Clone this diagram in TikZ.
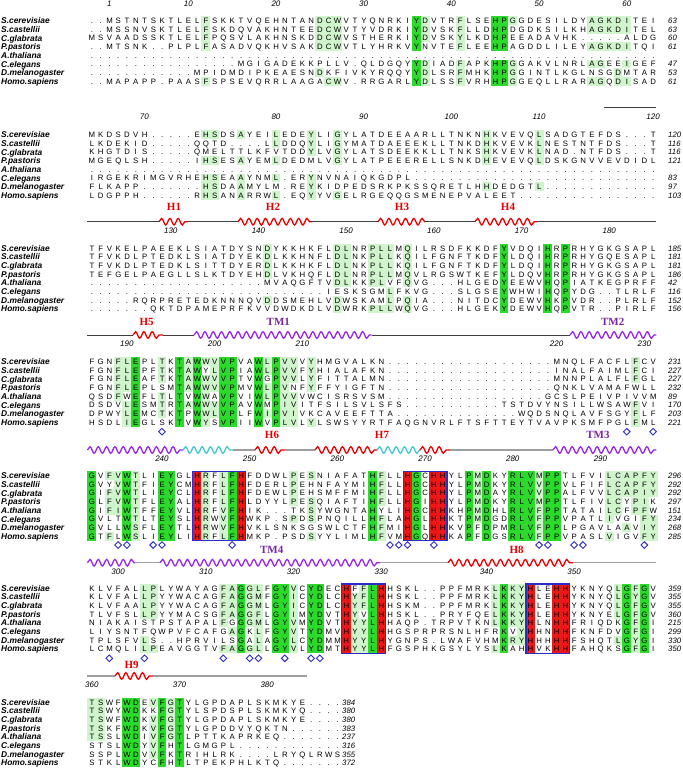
\documentclass[tikz,border=0pt]{standalone}
\usepackage{fontspec}
\setmainfont{Liberation Sans}
\newfontfamily\labelserif{Liberation Serif}
\usetikzlibrary{decorations.pathmorphing,shapes.geometric}

\definecolor{palegr}{RGB}{208,244,204}
\definecolor{brightgr}{RGB}{44,218,44}
\definecolor{redbg}{RGB}{236,24,24}
\definecolor{boxblue}{RGB}{44,44,204}
\definecolor{helixred}{RGB}{232,0,0}
\definecolor{tmviolet}{RGB}{150,40,235}
\definecolor{tmlabel}{RGB}{120,40,165}
\definecolor{turncyan}{RGB}{70,200,205}

% one residue per alignment column
\def\gv{.....}
\def\seqloop#1{\ifx\relax#1\else\makebox[8.77pt]{#1}\expandafter\seqloop\fi}
\def\blocky#1{\ifcase#1\or20.7\or134.7\or248.3\or361.7\or475.7\or588.3\or702.3\fi}
\newcommand\seqrow[2]{\edef\rowtxt{#2}%
  \node[seqres] (s\blk-#1) at (87.4,{\yb+(#1-1)*8.67+2.8}) {\expandafter\seqloop\rowtxt\relax};}

% shading of one column, one code per sequence: g pale, G green, R red
\newcommand\hlcol[2]{\pgfmathsetmacro\hlx{91.8+(#1-1)*8.77-4.385}%
  \expandafter\hlparse#2\relax}
\def\hlparse#1#2#3#4#5#6#7#8\relax{\hlcell0#1\hlcell1#2\hlcell2#3\hlcell3#4%
  \hlcell4#5\hlcell5#6\hlcell6#7\hlcell7#8}
\def\hlcell#1#2{%
  \if#2g\fill[palegr] (\hlx,{\yb+#1*8.67-4.335}) rectangle ++(8.87,8.77);\fi
  \if#2G\fill[brightgr] (\hlx,{\yb+#1*8.67-4.335}) rectangle ++(8.87,8.77);\fi
  \if#2R\fill[redbg] (\hlx,{\yb+#1*8.67-4.335}) rectangle ++(8.87,8.77);\fi}

% secondary structure piece: style, from x, to x, y
\newcommand\sse[4]{\draw[#1] (#2,#4) -- (#3,#4);}
\newcommand\motif[3]{\draw[motifbox] ({91.8+(#1-1)*8.77-4.385},{\yb-4.335})
  rectangle ({91.8+(#2-1)*8.77+4.385},{\yb+7*8.67+4.335});}

\begin{document}
\begin{tikzpicture}[x=1pt, y=-1pt, every node/.style={inner sep=0pt},
  seqres/.style={anchor=base west, font=\fontsize{7.8}{9}\selectfont},
  seqname/.style={anchor=base west, font=\fontsize{8.4}{9}\selectfont\bfseries\itshape},
  seqend/.style={anchor=base west, font=\fontsize{7.8}{9}\selectfont\itshape},
  rulenum/.style={font=\fontsize{8}{9}\selectfont\itshape},
  hlab/.style={font=\fontsize{11}{12}\selectfont\labelserif\bfseries, text=helixred},
  tmlab/.style={font=\fontsize{11}{12}\selectfont\labelserif\bfseries, text=tmlabel},
  helixH/.style={draw=helixred, line width=1.3pt, decorate,
    decoration={snake, segment length=8.3pt, amplitude=3.3pt}},
  helixTM/.style={helixH, draw=tmviolet},
  helixC/.style={helixH, draw=turncyan},
  coilk/.style={draw=black!75, line width=0.9pt},
  coilg/.style={draw=black!38, line width=1.1pt},
  motifbox/.style={draw=boxblue, line width=1.2pt},
  site/.style={draw=boxblue, diamond, line width=0.9pt, minimum width=7pt, minimum height=7pt}]
\fill[white] (0,0) rectangle (683,769);
\useasboundingbox (0,0) rectangle (683,769);

% block 1
\def\blk{1}\edef\yb{\blocky{1}}
\foreach \c/\p in {14/gggg---g, 27/gggg--g-, 28/gggg---g, 29/gggg---g, 38/GGGG-GGG,
  39/ggg--ggg, 43/gggg-ggg, 47/GGGG-GGG, 48/GGGG-GGG, 49/g----ggg, 58/gg-g-g-g,
  59/gg-g-g-g, 60/gg-g----, 61/gg-g--gg, 62/gg-g-g-g} {\hlcol{\c}{\p}}
\seqrow{1}{..MSTNTSKTLELFSKKTVQEHNTANDCWVTYQNRKIYDVTRFLSEHPGGDESILDYAGKDITEI}
\seqrow{2}{..MSSNVSKTLELFSKDQVAKHNTEEDCWVTYVDRKIYDVSKFLLDHPDGDKSILKHAGKDITEL}
\seqrow{3}{MSVAADSSKTLELFPQSVLAKHNSKDDCWVSTHERKIYDVSKYLKDHPEEADAVHK\gv ALDG}
\seqrow{4}{..MTSNK..PLPLFASADVQKHVSAKDCWVTLYHRKVYNVTEFLEEHPAGDDLILEYAGKDITQI}
\seqrow{5}{\gv\gv\gv\gv\gv\gv\gv\gv\gv\gv\gv\gv\gv}
\seqrow{6}{\gv\gv\gv..MGIGADEKKPLLV.QLDGQYYDIADFAPKHPGGAKVLNRLAGEEIGEF}
\seqrow{7}{\gv\gv..MPIDMDIPKEAESNDKFIVKYRQQYYDLSRFMHKHPGGINTLKGLNSGDMTAR}
\seqrow{8}{..MAPAPP.PAASFSPSEVQRRLAAGACWV.RRGARLYDLSSFVRHHPGGEQLLRARAGQDISAD}
\foreach \v [count=\r] in {63,63,60,61,{},47,53,61}
  \node[seqend] (e\blk-\r) at (668,{\yb+(\r-1)*8.67+2.8}) {\v};
\foreach \c/\t in {3/1,12/10,22/20,32/30,42/40,52/50,62/60}
  \node[rulenum] (k\blk-\t) at ({91.8+(\c-1)*8.77},4) {\t};

% block 2
\def\blk{2}\edef\yb{\blocky{2}}
\foreach \c/\p in {14/g--g-ggg, 15/g--g-ggg, 18/g--g-ggg, 22/gg-g-g-g, 26/ggg--ggg,
  29/gggg---g, 46/gggg--g-, 52/gggg--g-} {\hlcol{\c}{\p}}
\seqrow{1}{MKDSDVH\gv EHSDSAYEILEDEYLIGYLATDEEAARLLTNKNHKVEVQLSADGTEFDS...T}
\seqrow{2}{LKDEKID\gv QQTD....LLDDQYLIGYMATDAEEEKLLTNKDHKVEVKLNESTNTFDS...T}
\seqrow{3}{KHGTDIS\gv QMELTTLKFVTDDYLVGYLATSDEEKKLLTNKSHKVEVKLNAD.NTFDS...T}
\seqrow{4}{MGEQLSH\gv IHSESAYEMLDEDMLVGYLATPEEERELLSNKDHEVEVQLDSKGNVVEVDIDL}
\seqrow{5}{\gv\gv\gv\gv\gv\gv\gv\gv\gv\gv\gv\gv\gv}
\seqrow{6}{IRGEKRIMGVRHEHSEAAYNML.ERYNVNAIQKGDPL\gv\gv\gv\gv\gv...}
\seqrow{7}{FLKAPP\gv..HSDAAMYLM.REYKIDPEDSRKPKSSQRETLHHDEDGTL\gv\gv...}
\seqrow{8}{LDGPPH\gv.RHSANARRWL.EQYYVGELRGEQQGSMENEPVALEET\gv\gv\gv.}
\foreach \v [count=\r] in {120,116,116,121,{},83,97,103}
  \node[seqend] (e\blk-\r) at (668,{\yb+(\r-1)*8.67+2.8}) {\v};
\foreach \c/\t in {7/70,22/80,32/90,42/100,52/110,65/120}
  \node[rulenum] (k\blk-\t) at ({91.8+(\c-1)*8.77},116.7) {\t};
\sse{coilk}{603.9}{656.4}{107.7}

% block 3
\def\blk{3}\edef\yb{\blocky{3}}
\foreach \c/\p in {21/gggg--g-, 29/ggggg-gg, 30/ggggg---, 33/ggggg--g, 34/ggggg--g,
  35/gggg-ggg, 37/ggggg-gg, 48/GGGGGGGG, 53/GGGGGGGG, 55/GGGGGGGG} {\hlcol{\c}{\p}}
\seqrow{1}{TFVKELPAEEKLSIATDYSNDYKKHKFLDLNRPLLMQILRSDFKKDFYVDQIHRPRHYGKGSAPL}
\seqrow{2}{TFVKDLPTEDKLSIATDYEKDLKKHNFLDLNKPLLKQILFGNFTKDFYLDQIHRPRHYGQESAPL}
\seqrow{3}{TFVKDLPTEDKLSITTDYERDLKKHKFLDLNKPLLKQILFGNFTKDFYLDQIHRPRHYGKGSAPL}
\seqrow{4}{TEFGELPAEGLLSLKTDYEHDLVKHQFLDLNRPLLMQVLRGSWTKEFYLDQVHRPRHYGKGSAPL}
\seqrow{5}{\gv\gv\gv\gv MVAQGFTVDLKKPLVFQVG...HLGEDYEEWVHQPIATKEGPRFF}
\seqrow{6}{\gv\gv\gv\gv\gv..IESKSGMLFKVG...SLGSEYWHWIHQPYDG..TLRLF}
\seqrow{7}{\gv RQRPRETEDKNNNQVDDSMEHLVDWSKAMLPQIA...NITDCYDEWVHKPVDR..PLRLF}
\seqrow{8}{\gv..QKTDPAMEPRFKVVDWDKDLVDWRKPLLWQVG...HLGEKYDEWVHQPVTR..PIRLF}
\foreach \v [count=\r] in {185,181,181,186,42,116,152,156}
  \node[seqend] (e\blk-\r) at (668,{\yb+(\r-1)*8.67+2.8}) {\v};
\foreach \c/\t in {10/130,20/140,30/150,40/160,50/170,60/180}
  \node[rulenum] (k\blk-\t) at ({91.8+(\c-1)*8.77},230.7) {\t};
\sse{coilk}{87.4}{159}{221.7}
\sse{helixH}{159}{188}{221.7}
\sse{coilk}{188}{238}{221.7}
\sse{helixH}{238}{312}{221.7}
\sse{coilk}{312}{378}{221.7}
\sse{helixH}{378}{425}{221.7}
\sse{coilk}{425}{475}{221.7}
\sse{helixH}{475}{537}{221.7}
\sse{coilk}{537}{656.4}{221.7}
\node[hlab] (lh1) at (174,206.7) {H1};
\node[hlab] (lh2) at (273,206.7) {H2};
\node[hlab] (lh3) at (402,206.7) {H3};
\node[hlab] (lh4) at (508,206.7) {H4};

% block 4
\def\blk{4}\edef\yb{\blocky{4}}
\foreach \c/\p in {4/ggggg---, 5/gggg-ggg, 6/GGGGGGGG, 9/ggg-ggg-, 11/GGGGGGGG,
  12/gggg-g--, 13/GGGGGGGG, 14/g-gggggg, 15/gggg-gg-, 16/GGGGGGGG, 17/GGGGGGGG,
  20/GGGGGGGG, 21/gg-gg-g-, 22/GGGGGGGG, 23/gggggggg, 24/ggg-gggg, 26/gggg---g,
  63/ggg--ggg} {\hlcol{\c}{\p}}
\seqrow{1}{FGNFLEPLTKTAWWVVPVAWLPVVVYHMGVALKN\gv\gv\gv....MNQLFACFLFCV}
\seqrow{2}{FGNFLEPFTKTAWYLVPIAWLPVVFYHIALAFKN\gv\gv\gv....INALFAIMLFCI}
\seqrow{3}{FGNFLEAFTKTAWWVVPTVWGPVVLYFITTALMN\gv\gv\gv....MNNPLALFLFGL}
\seqrow{4}{FGNFLEPLSMTAWWVVPMVWLPVNFYFFYIGFTN\gv\gv\gv....QNKLVAMAFWLL}
\seqrow{5}{QSDFWEFLTLTVWWAVPVIWLPVVVWCISRSVSM\gv\gv\gv...GCSLPEIVPIVVM}
\seqrow{6}{DSDVLESMTRTAWWVVPAVWMPIVITFSILSVLSFS\gv\gv.TSTDVYNSILLWSAWFVI}
\seqrow{7}{DPWYLEMCTKTPWWLVPLFWIPVIVKCAVEEFTTA\gv\gv....WQDSNQLAVFSGYFLF}
\seqrow{8}{HSDLIEGLSKTVWYSVPIIWVPLVLYLSWSYYRTFAQGNVRLFTSFTTEYTVAVPKSMFPGLFML}
\foreach \v [count=\r] in {231,227,227,232,89,170,203,221}
  \node[seqend] (e\blk-\r) at (668,{\yb+(\r-1)*8.67+2.8}) {\v};
\foreach \c/\t in {5/190,15/200,25/210,54/220,64/230}
  \node[rulenum] (k\blk-\t) at ({91.8+(\c-1)*8.77},344) {\t};
\sse{coilk}{87.4}{133}{335}
\sse{helixH}{133}{163}{335}
\sse{coilk}{163}{194}{335}
\sse{helixTM}{194}{371.7}{335}
\sse{coilk}{371.7}{570}{335}
\sse{helixTM}{570}{656.4}{335}
\node[hlab] (lh5) at (146.7,321.7) {H5};
\node[tmlab] (ltm1) at (278.3,321.7) {TM1};
\node[tmlab] (ltm2) at (612.7,321.7) {TM2};
\foreach \c in {9,62,65}
  \node[site] (d\blk-\c) at ({91.8+(\c-1)*8.77},431.7) {};

% block 5
\def\blk{5}\edef\yb{\blocky{5}}
\foreach \c/\p in {1/GGGGGGGG, 3/g-ggg--g, 4/ggggg---, 5/GGGGGGGG, 6/gggggggg,
  9/GGGGGGGG, 10/GGGGGGGG, 13/RRRRRRRR, 14/gggggggg, 16/gggggggg, 17/GGGGGGGG,
  18/RRRRRRRR, 24/gggg-g--, 26/g--ggg-g, 33/GGGGGGGG, 34/gggg-ggg, 37/RRRRRRRR,
  38/GGGGGGGG, 40/RRRRRRRR, 41/RRRRRRRR, 44/GGGGGGGG, 45/gggggg--, 46/GGGGGGGG,
  49/GGGGGGGG, 50/GGGGGGGG, 51/GGGGGGGG, 52/gggggggg, 53/GGGGGGGG, 54/GGGGGGGG,
  60/gggggg-g, 61/ggggg---, 62/ggg---g-, 63/ggggg---, 64/gggggggg, 65/ggg--ggg}
  {\hlcol{\c}{\p}}
\motif{13}{18}{}
\motif{37}{41}{}
\seqrow{1}{GVFVWTLIEYGLHRFLFHFDDWLPESNIAFATHFLLHGCHHYLPMDKYRLVMPPTLFVILCAPFY}
\seqrow{2}{GVYVWTFIEYCMHRFLFHFDERLPEHNFAYMIHFLLHGCHHYLPMDKYRLVVPPVLFIFLCAPFY}
\seqrow{3}{GIFVWTLIEYCLHRFLFHFDEWLPEHSMFFMIHFLLHGCHHYLPMDAYRLVVPPALFVVLCAPIY}
\seqrow{4}{GLFVWTFLEYALHRFLFHLDYYLPESQIAFTIHFLLHGIHHYLPMDKYRLVMPPTLFIVLCYPIK}
\seqrow{5}{GIFIWTFFEYVLHRFVFHIK...TKSYWGNTAHYLIHGCHHKHPMDHLRLVFPPTATAILCFPFW}
\seqrow{6}{GVLTWTLTEYSLHRWVFHWKP.SPDSPNQILLHFLAHGLHHKTPMDGDRLVFPPVPATLIVGIFY}
\seqrow{7}{GVLLWSFLEYTLHRWVFHVKLSNKSGSWLCTFHFMIHGLHHKVPFDPMRLVFPPLPGAVLAAVIY}
\seqrow{8}{GTFLWSLIEYLIHRFLFHMKP.PSDSYYLIMLHFVMHGQHHKAPFDGSRLVFPPVPASLVIGVFY}
\foreach \v [count=\r] in {296,292,292,297,151,234,268,285}
  \node[seqend] (e\blk-\r) at (668,{\yb+(\r-1)*8.67+2.8}) {\v};
\foreach \c/\t in {9/240,19/250,29/260,39/270,49/280,59/290}
  \node[rulenum] (k\blk-\t) at ({91.8+(\c-1)*8.77},458.3) {\t};
\sse{helixTM}{87.4}{183}{450}
\sse{helixC}{183}{233}{450}
\sse{coilg}{233}{255}{450}
\sse{helixH}{255}{285}{450}
\sse{coilg}{285}{315}{450}
\sse{helixH}{315}{377}{450}
\sse{helixC}{377}{420}{450}
\sse{helixH}{420}{450}{450}
\sse{coilg}{450}{553}{450}
\sse{helixTM}{553}{656.4}{450}
\node[hlab] (lh6) at (272,435) {H6};
\node[hlab] (lh7) at (382,435) {H7};
\node[tmlab] (ltm3) at (598,435) {TM3};
\foreach \c in {4,5,8,9,17,35,36,37,40,52,53,56,57,64}
  \node[site] (d\blk-\c) at ({91.8+(\c-1)*8.77},545) {};

% block 6
\def\blk{6}\edef\yb{\blocky{6}}
\foreach \c/\p in {7/gggg--gg, 8/gggg---g, 16/ggggg--g, 17/gggg-g-g, 18/GGGGGGGG,
  19/ggggg--g, 20/gggggggg, 22/GGGGGGGG, 23/GGGGGGGG, 24/gggggggg, 26/GGGGGGGG,
  27/GGGGGGGG, 30/RRRRRRRR, 31/-ggggggg, 32/ggg-gggg, 33/GGGGGGGG, 34/RRRRRRRR,
  47/ggggg--g, 48/GGGGGGGG, 49/ggggg-g-, 50/ggggggg-, 51/RRRRRRRR, 54/RRRRRRRR,
  55/RRRRRRRR, 61/gggg--g-, 62/GGGGGGGG, 63/gggggggg, 64/GGGGGGGG} {\hlcol{\c}{\p}}
\motif{30}{34}{}
\motif{51}{55}{}
\seqrow{1}{KLVFALLPLYWAYAGFAGGLFGYVCYDECHFFLHHSKL..PPFMRKLKKYHLEHHYKNYQLGFGV}
\seqrow{2}{KLVFALLPYYWACAGFAGGMFGYICYDLCHYFLHHSKL..PPFMRKLKKYHLEHHYKNYQLGYGV}
\seqrow{3}{KLVFAALPYYWACAGFAGGMLGYICYDLCHYFLHHSKM..PPFMRKLKKYHLEHHYKNYQLGFGV}
\seqrow{4}{TLVFSLLPYYMACSGFAGGFLGYIMYDVTHYVLHHSKL..PRYFQELKKYHLEHHYKNYELGFGV}
\seqrow{5}{NIAKAISTPSTAPALFGGGMLGYVMYDVTHYYLHHAQP.TRPVTKNLKKYHLNHHFRIQDKGFGI}
\seqrow{6}{LIYSNTFQWPVFCAFGAGKLFGYVTYDMVHYYLHHGSPRPRSNLHFRKVYHHNHHFKNFDVGFGI}
\seqrow{7}{TPLSFVLS..HPRVILSGALAGYLCYDMMHYYLHYGNPS.LWAFVHMKRYHHHHHFSHQTLGYGI}
\seqrow{8}{LCMQLILPEAVGGTVFAGGLLGYVLYDMTHYYLHFGSPHKGSYLYSLKAHHVKHHFAHQKSGFGI}
\foreach \v [count=\r] in {359,355,355,360,215,299,330,350}
  \node[seqend] (e\blk-\r) at (668,{\yb+(\r-1)*8.67+2.8}) {\v};
\foreach \c/\t in {4/300,14/310,24/320,34/330,46/340,56/350}
  \node[rulenum] (k\blk-\t) at ({91.8+(\c-1)*8.77},571.7) {\t};
\sse{helixTM}{87.4}{135}{562.7}
\sse{coilg}{135}{160}{562.7}
\sse{helixTM}{160}{380}{562.7}
\sse{coilg}{380}{448}{562.7}
\sse{helixH}{448}{573}{562.7}
\sse{coilg}{573}{656.4}{562.7}
\node[tmlab] (ltm4) at (271.7,550) {TM4};
\node[hlab] (lh8) at (516.7,550) {H8};
\foreach \c in {3,7,16,19,20,23,26,27}
  \node[site] (d\blk-\c) at ({91.8+(\c-1)*8.77},658.3) {};

% block 7
\def\blk{7}\edef\yb{\blocky{7}}
\foreach \c/\p in {1/ggggg---, 2/ggggg---, 5/GGGGGGGG, 6/GGGGGGGG, 8/g-ggggg-,
  9/GGGGGGGG, 10/ggggg---, 11/GGGGGGGG} {\hlcol{\c}{\p}}
\seqrow{1}{TSWFWDEVFGTYLGPDAPLSKMKYE....}
\seqrow{2}{TSWYWDKKFGTYLSPDSPLSKMKYQ....}
\seqrow{3}{TSWFWDKVFGTYLGPDAPLSKMKYE....}
\seqrow{4}{TSKFWDKVFGTYLGPDDVYQKTN......}
\seqrow{5}{TSSLWDIVFGTLPTTKAPRKEQ.......}
\seqrow{6}{STSLWDYVFHTLGMGPL............}
\seqrow{7}{SSPLWDVVFKTRIHLRK....LRYQLRWS}
\seqrow{8}{STKLWDYCFHTLTPEKPHLKTQ.......}
\foreach \v [count=\r] in {384,380,380,383,237,316,355,372}
  \node[seqend] (e\blk-\r) at (342,{\yb+(\r-1)*8.67+2.8}) {\v};
\foreach \c/\t in {1/360,11/370,21/380}
  \node[rulenum] (k\blk-\t) at ({91.8+(\c-1)*8.77},685) {\t};
\sse{coilg}{87.4}{115}{676}
\sse{helixH}{115}{153}{676}
\sse{coilg}{153}{306.8}{676}
\node[hlab] (lh9) at (131.7,665) {H9};

% species names
\foreach \b in {1,...,7} {
  \edef\yb{\blocky{\b}}
  \foreach \n [count=\r] in {S.cerevisiae,S.castellii,C.glabrata,P.pastoris,
      A.thaliana,C.elegans,D.melanogaster,Homo.sapiens}
    \node[seqname] (n\b-\r) at (1,{\yb+(\r-1)*8.67+3}) {\n};
}
\end{tikzpicture}
\end{document}
